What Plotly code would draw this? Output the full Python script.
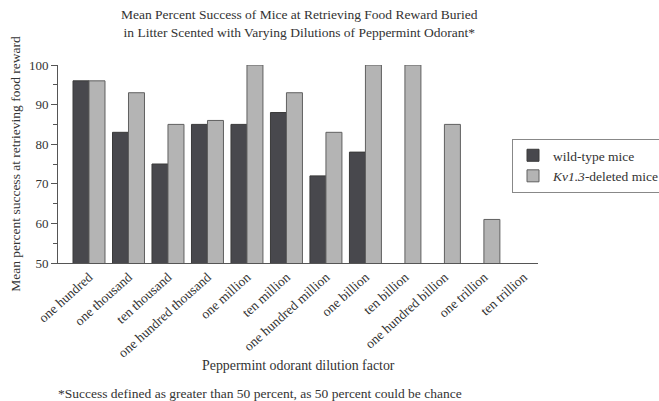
import plotly.graph_objects as go

categories = ["one hundred", "one thousand", "ten thousand", "one hundred thousand",
              "one million", "ten million", "one hundred million", "one billion",
              "ten billion", "one hundred billion", "one trillion", "ten trillion"]
wild_type = [96, 83, 75, 85, 85, 88, 72, 78, None, None, None, None]
kv13_deleted = [96, 93, 85, 86, 100, 93, 83, 100, 100, 85, 61, None]

FONT = "Liberation Serif"
TXT = "#333333"
L, R, T, B = 58, 121, 65, 138
W, H = 659, 401
pw, ph = W - L - R, H - T - B

def px_x(x):
    return (x - L) / pw

def px_y(y):
    return (H - B - y) / ph

fig = go.Figure()
fig.add_trace(go.Bar(x=categories, y=wild_type, name="wild-type mice",
                     marker=dict(color="#48484d", line=dict(color="#3a3a3a", width=1))))
fig.add_trace(go.Bar(x=categories, y=kv13_deleted, name="<i>Kv1.3</i>-deleted mice",
                     marker=dict(color="#b4b4b4", line=dict(color="#606060", width=1))))

fig.update_layout(
    width=W, height=H,
    margin=dict(l=L, r=R, t=T, b=B, autoexpand=False),
    paper_bgcolor="white", plot_bgcolor="white",
    font=dict(family=FONT, color=TXT, size=13.5),
    barmode="group", bargap=0.19, bargroupgap=0,
    showlegend=True,
    legend=dict(x=px_x(512), y=px_y(139), xanchor="left", yanchor="top",
                bordercolor="#888888", borderwidth=1, font=dict(size=13.5, family=FONT, color=TXT),
                bgcolor="white", itemwidth=30),
    xaxis=dict(range=[-0.785, 11.37], showline=True, linecolor="#555555", linewidth=1,
               ticks="", tickangle=-42, tickfont=dict(size=13.5, family=FONT, color=TXT),
               showgrid=False, zeroline=False),
    yaxis=dict(range=[50, 100], showline=True, linecolor="#555555", linewidth=1,
               ticks="outside", ticklen=6, tickcolor="#555555", dtick=10,
               tickfont=dict(size=13, family=FONT, color=TXT),
               minor=dict(dtick=5, ticks="outside", ticklen=4, tickcolor="#555555"),
               showgrid=False, zeroline=False,
               title=dict(text="Mean percent success at retrieving food reward",
                          font=dict(size=13.5, family=FONT, color=TXT), standoff=5)),
)

fig.add_annotation(text="Mean Percent Success of Mice at Retrieving Food Reward Buried<br>in Litter Scented with Varying Dilutions of Peppermint Odorant*",
                   xref="paper", yref="paper", x=px_x(299.5), y=px_y(23.5), showarrow=False,
                   xanchor="center", yanchor="middle",
                   font=dict(size=13.5, family=FONT, color=TXT))
fig.add_annotation(text="Peppermint odorant dilution factor", xref="paper", yref="paper",
                   x=px_x(298.5), y=px_y(365), showarrow=False, yanchor="middle",
                   font=dict(size=13.9, family=FONT, color=TXT))
fig.add_annotation(text="*Success defined as greater than 50 percent, as 50 percent could be chance",
                   xref="paper", yref="paper", x=px_x(259.5), y=px_y(393), showarrow=False,
                   yanchor="middle",
                   font=dict(size=13.5, family=FONT, color=TXT))

fig.write_html("out.html", config={"displayModeBar": False},
               post_script="document.body.style.margin='0';document.body.style.padding='0';")
